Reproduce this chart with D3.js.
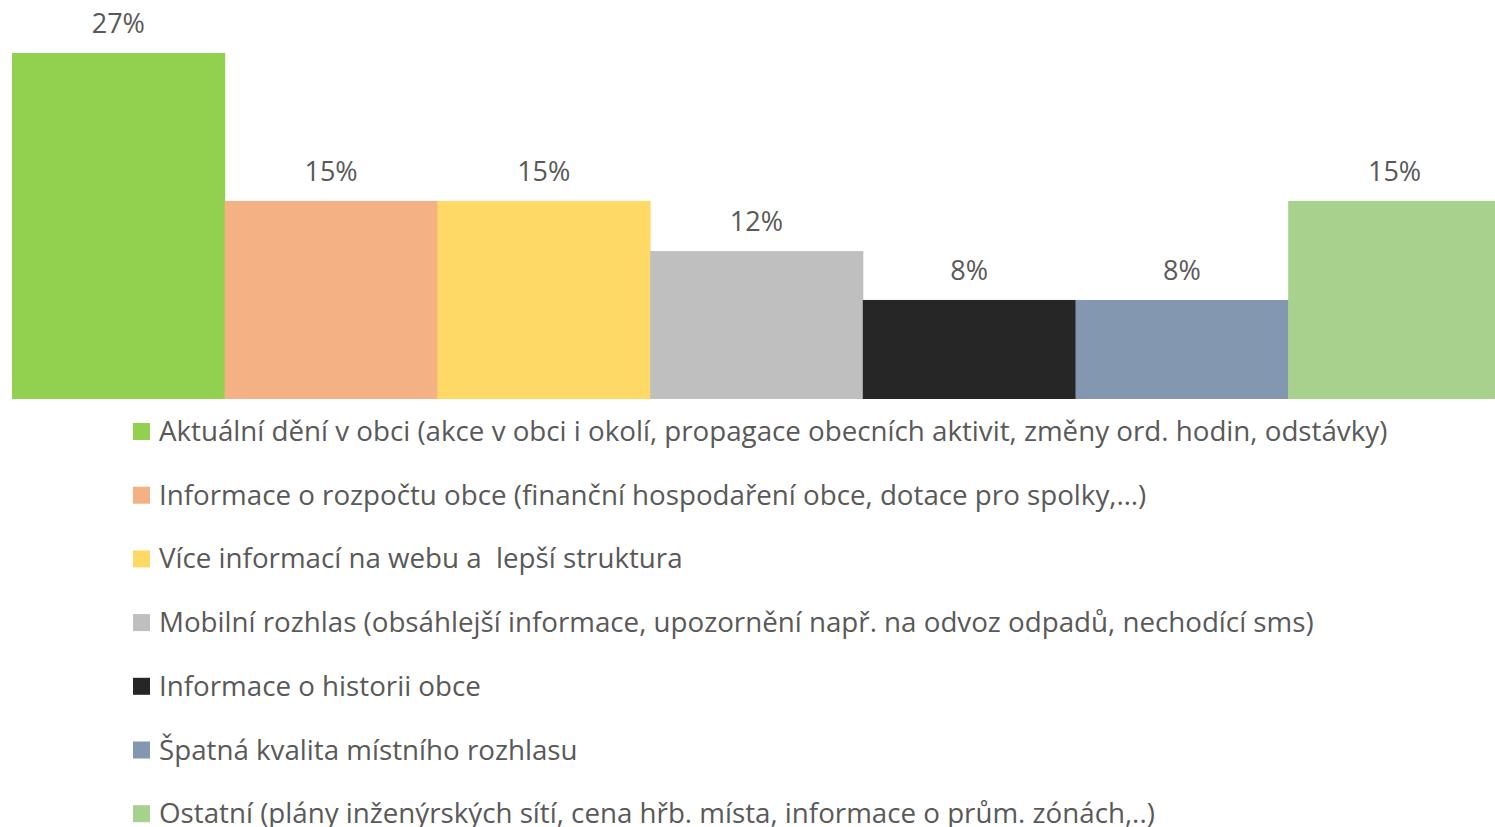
<!DOCTYPE html>
<html>
<head>
<meta charset="utf-8">
<script src="https://cdn.jsdelivr.net/npm/d3@7"></script>
<style>
  body { margin: 0; background: #fff; }
  svg { display: block; }
</style>
</head>
<body>
<svg id="chart" width="1495" height="827"></svg>
<script>
// categories (legend texts)
var categories = [
  "Aktuální dění v obci (akce v obci i okolí, propagace obecních aktivit, změny ord. hodin, odstávky)",
  "Informace o rozpočtu obce (finanční hospodaření obce, dotace pro spolky,…)",
  "Více informací na webu a  lepší struktura",
  "Mobilní rozhlas (obsáhlejší informace, upozornění např. na odvoz odpadů, nechodící sms)",
  "Informace o historii obce",
  "Špatná kvalita místního rozhlasu",
  "Ostatní (plány inženýrských sítí, cena hřb. místa, informace o prům. zónách,..)"
];
// shares
var values = [0.269, 0.154, 0.154, 0.115, 0.077, 0.077, 0.154];
var colors = ["#92D050", "#F4B183", "#FFD966", "#BFBFBF", "#262626", "#8497B0", "#A9D18E"];

var svg = d3.select("#chart");
var fontFam = "'Open Sans', 'Noto Sans', sans-serif";

var margin = {top: 53, left: 12},
    baseline = 399;

var x = d3.scaleBand()
  .domain(d3.range(categories.length))
  .range([margin.left, margin.left + 7 * 212.7])
  .padding(0);

var y = d3.scaleLinear()
  .domain([0, 0.269])
  .range([baseline, margin.top]);

var fmt = d3.format(".0%");

// bars
svg.append("g")
  .selectAll("rect")
  .data(values)
  .enter()
  .append("rect")
    .attr("x", function(d, i) { return x(i); })
    .attr("y", function(d) { return y(d); })
    .attr("width", x.bandwidth() + 0.5)
    .attr("height", function(d) { return baseline - y(d); })
    .style("fill", function(d, i) { return colors[i]; });

// value labels
svg.append("g")
  .selectAll("text")
  .data(values)
  .enter()
  .append("text")
    .attr("x", function(d, i) { return x(i) + x.bandwidth() / 2; })
    .attr("y", function(d) { return y(d) - 20; })
    .attr("text-anchor", "middle")
    .style("font-family", fontFam)
    .style("font-size", "27px")
    .style("fill", "#595959")
    .text(function(d) { return fmt(d); });

// legend
var legend = svg.append("g")
  .selectAll("g")
  .data(categories)
  .enter()
  .append("g")
    .attr("transform", function(d, i) { return "translate(133," + (441 + i * 63.7) + ")"; });

legend.append("rect")
  .attr("x", 0)
  .attr("y", -18)
  .attr("width", 17)
  .attr("height", 17)
  .style("fill", function(d, i) { return colors[i]; });

var legendText = legend.append("text")
  .attr("x", 26)
  .attr("y", 0)
  .style("font-family", fontFam)
  .style("font-size", "25px")
  .style("fill", "#595959")
  .style("white-space", "pre")
  .text(function(d) { return d; });

// fit the legend font so the first line spans the same width as in the original
var w0 = legendText.node().getComputedTextLength();
var fs = 25 * 1229 / w0;
legendText.style("font-size", fs + "px");
</script>
</body>
</html>
